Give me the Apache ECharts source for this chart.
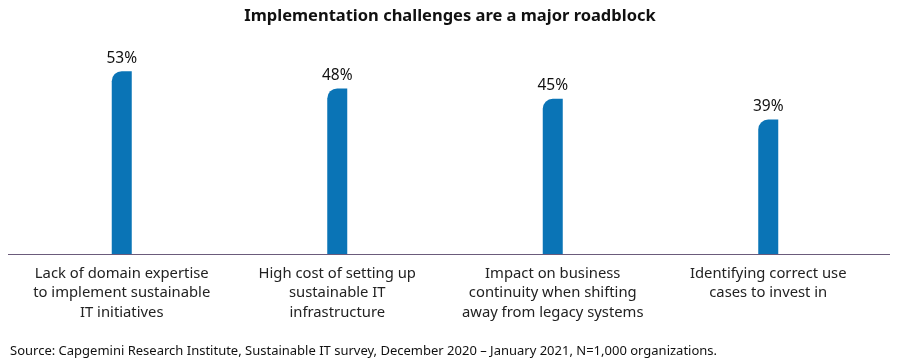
<!DOCTYPE html>
<html><head><meta charset="utf-8">
<script src="https://cdn.jsdelivr.net/npm/echarts@6/dist/echarts.min.js"></script>
<style>html,body{margin:0;padding:0;background:#fff}#c{width:900px;height:364px}</style>
</head><body><div id="c"></div>
<script>
const categories = [
  "Lack of domain expertise\nto implement sustainable\nIT initiatives",
  "High cost of setting up\nsustainable IT\ninfrastructure",
  "Impact on business\ncontinuity when shifting\naway from legacy systems",
  "Identifying correct use\ncases to invest in"
];
const values = [53, 48, 45, 39];
const titleText = "Implementation challenges are a major roadblock";
const sourceText = "Source: Capgemini Research Institute, Sustainable IT survey, December 2020 – January 2021, N=1,000 organizations.";

const chart = echarts.init(document.getElementById('c'), null, {renderer:'canvas'});
chart.setOption({
  animation:false,
  title:[{text:titleText,left:'center',top:3,textStyle:{fontFamily:'Noto Sans',fontWeight:'bold',fontSize:16.5,color:'#111'}},
         {text:sourceText,left:5,top:340,textStyle:{fontFamily:'Noto Sans',fontWeight:'normal',fontSize:13,color:'#111'}}],
  graphic:[{type:'line',shape:{x1:8,y1:254.5,x2:890,y2:254.5},style:{stroke:'#6b5b7b',lineWidth:1},z:10}],
  grid:{left:14,right:24,top:47,bottom:110},
  xAxis:{type:'category',data:categories,
    axisLine:{show:false},axisTick:{show:false},
    axisLabel:{interval:0,fontFamily:'Noto Sans',fontSize:14.8,color:'#222',lineHeight:19.5,margin:10}},
  yAxis:{type:'value',min:0,max:60,show:false,splitLine:{show:false}},
  series:[{type:'bar',data:values,barWidth:20,
    itemStyle:{color:'#0a74b6',borderRadius:[10,0,0,0]},
    label:{show:true,position:'top',distance:5,formatter:'{c}%',fontFamily:'Noto Sans',fontSize:15.5,color:'#111'}}]
});
</script></body></html>
